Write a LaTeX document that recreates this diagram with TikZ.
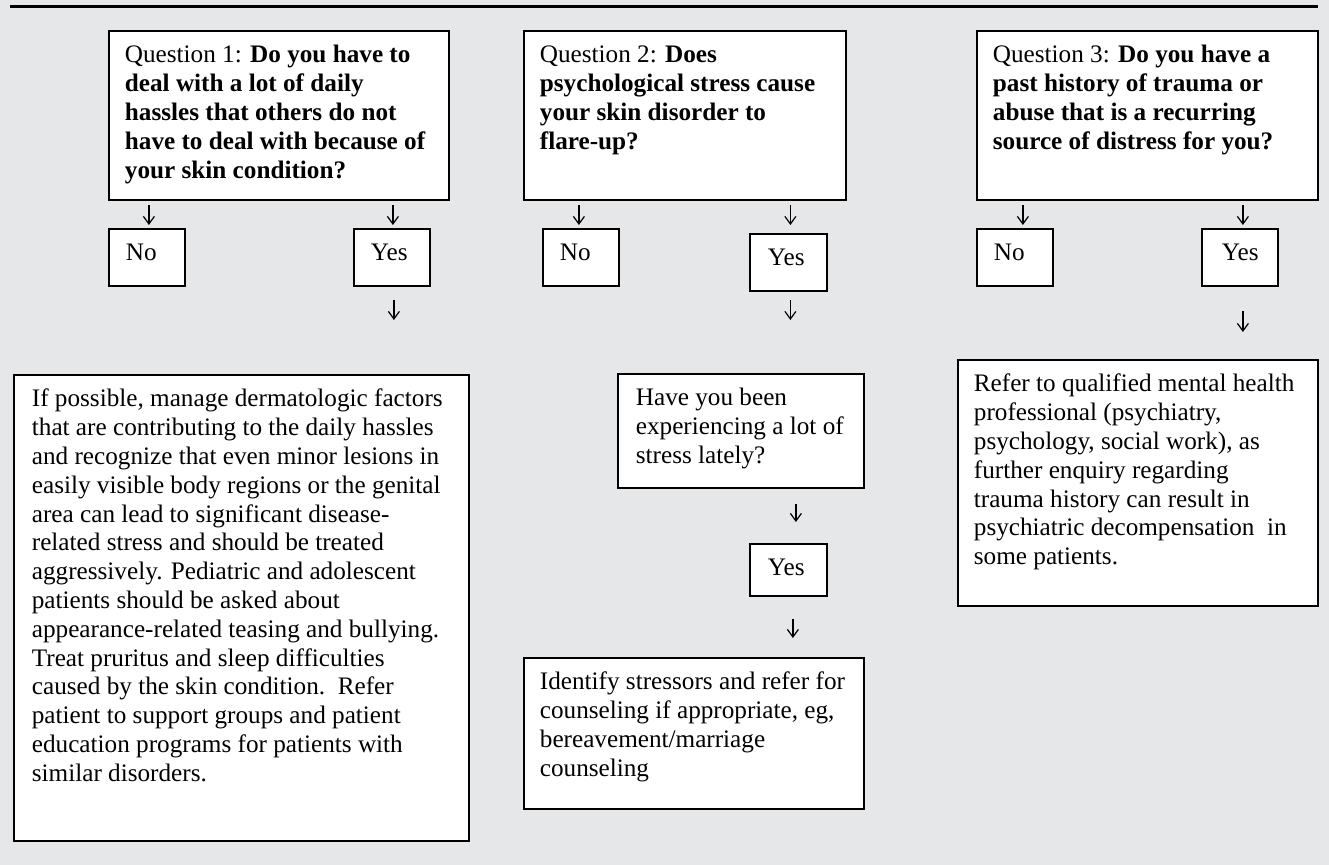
\documentclass[tikz,border=0pt]{standalone}
\usepackage{fontspec}
\setmainfont{Liberation Serif}
\usetikzlibrary{arrows.meta}
\definecolor{panelgray}{HTML}{E6E7E8}
\newdimen\cardpx \cardpx=0.5pt
\newcommand{\qfont}{\fontsize{12.6}{14.4}\selectfont}
\newcommand{\cardtext}[4][16]{\hspace*{#1\cardpx}\parbox[t][\dimexpr#3\cardpx-12pt\relax][t]{\dimexpr#2\cardpx-#1\cardpx\relax}{\raggedright\rule{0pt}{10pt}#4}}
\begin{document}
\begin{tikzpicture}[x=0.5pt,y=-0.5pt]
            \tikzstyle{card}=[draw,line width=0.9pt,fill=white,anchor=north west,inner xsep=0pt,inner ysep=6pt,font=\qfont]
            \tikzstyle{down}=[-{Straight Barb[length=3.8pt,width=5.5pt,line width=0.6pt]},line width=0.6pt]

            \fill[panelgray] (0,0) rectangle (1329,865);
            \useasboundingbox (0,0) rectangle (1329,865);
            \draw[line width=1.5pt] (10,7) -- (1318,7);

            \node[card] (q1) at (108,30) {\cardtext{340}{169}{Question 1: \textbf{Do you have to}\\
            \textbf{deal with a lot of daily}\\
            \textbf{hassles that others do not}\\
            \textbf{have to deal with because of}\\
            \textbf{your skin condition?}}};
            \node[card] (no1) at (108,228) {\cardtext[17]{76}{57}{No}};
            \node[card] (yes1) at (353,228) {\cardtext[17]{76}{57}{Yes}};
            \node[card] (manage) at (13,374) {\cardtext[18]{455}{466}{If possible, manage dermatologic factors\\
            that are contributing to the daily hassles\\
            and recognize that even minor lesions in\\
            easily visible body regions or the genital\\
            area can lead to significant disease-\\
            related stress and should be treated\\
            aggressively. Pediatric and adolescent\\
            patients should be asked about\\
            appearance-related teasing and bullying.\\
            Treat pruritus and sleep difficulties\\
            caused by the skin condition.\ \ Refer\\
            patient to support groups and patient\\
            education programs for patients with\\
            similar disorders.}};

            \node[card] (q2) at (523,30) {\cardtext{322}{169}{Question 2: \textbf{Does}\\
            \textbf{psychological stress cause}\\
            \textbf{your skin disorder to}\\
            \textbf{flare-up?}}};
            \node[card] (no2) at (542,228) {\cardtext[17]{76}{57}{No}};
            \node[card] (yes2) at (749,233) {\cardtext[18]{77}{57}{Yes}};
            \node[card] (lately) at (617,373) {\cardtext[18]{246}{114}{Have you been\\
            experiencing a lot of\\
            stress lately?}};
            \node[card] (yes4) at (749,543) {\cardtext[18]{77}{52}{Yes}};
            \node[card] (identify) at (523,657) {\cardtext{340}{151}{Identify stressors and refer for\\
            counseling if appropriate, eg,\\
            bereavement/marriage\\
            counseling}};

            \node[card] (q3) at (976,30) {\cardtext{341}{169}{Question 3: \textbf{Do you have a}\\
            \textbf{past history of trauma or}\\
            \textbf{abuse that is a recurring}\\
            \textbf{source of distress for you?}}};
            \node[card] (no3) at (976,228) {\cardtext[17]{76}{57}{No}};
            \node[card] (yes3) at (1201,228) {\cardtext[20]{76}{57}{Yes}};
            \node[card] (refer) at (957,359) {\cardtext{360}{246}{Refer to qualified mental health\\
            professional (psychiatry,\\
            psychology, social work), as\\
            further enquiry regarding\\
            trauma history can result in\\
            psychiatric decompensation\ \ in\\
            some patients.}};

            \draw[down,shorten <=2pt,shorten >=1.5pt] ([xshift=1pt]no1.north |- q1.south) -- ([xshift=1pt]no1.north);
            \draw[down,shorten <=2pt,shorten >=1.5pt] ([xshift=0.5pt]yes1.north |- q1.south) -- ([xshift=0.5pt]yes1.north);
            \draw[down,shorten <=6.5pt,shorten >=27pt] ([xshift=1pt]yes1.south) -- ([xshift=1pt]yes1.south |- manage.north);
            \draw[down,shorten <=2pt,shorten >=1.5pt] ([xshift=-1pt]no2.north |- q2.south) -- ([xshift=-1pt]no2.north);
            \draw[down,shorten <=2pt,shorten >=4pt] ([xshift=1pt]yes2.north |- q2.south) -- ([xshift=1pt]yes2.north);
            \draw[down,shorten <=4pt,shorten >=26.5pt] ([xshift=1pt]yes2.south) -- ([xshift=1pt]yes2.south |- lately.north);
            \draw[down,shorten <=7.5pt,shorten >=10.5pt] ([xshift=3.75pt]yes4.north |- lately.south) -- ([xshift=3.75pt]yes4.north);
            \draw[down,shorten <=11pt,shorten >=9.5pt] ([xshift=2.25pt]yes4.south) -- ([xshift=2.25pt]yes4.south |- identify.north);
            \draw[down,shorten <=2pt,shorten >=1.5pt] ([xshift=4pt]no3.north |- q3.south) -- ([xshift=4pt]no3.north);
            \draw[down,shorten <=2pt,shorten >=1.5pt] ([xshift=1.5pt]yes3.north |- q3.south) -- ([xshift=1.5pt]yes3.north);
            \draw[down,shorten <=12pt,shorten >=13.5pt] ([xshift=1.5pt]yes3.south) -- ([xshift=1.5pt]yes3.south |- refer.north);
\end{tikzpicture}
\end{document}
